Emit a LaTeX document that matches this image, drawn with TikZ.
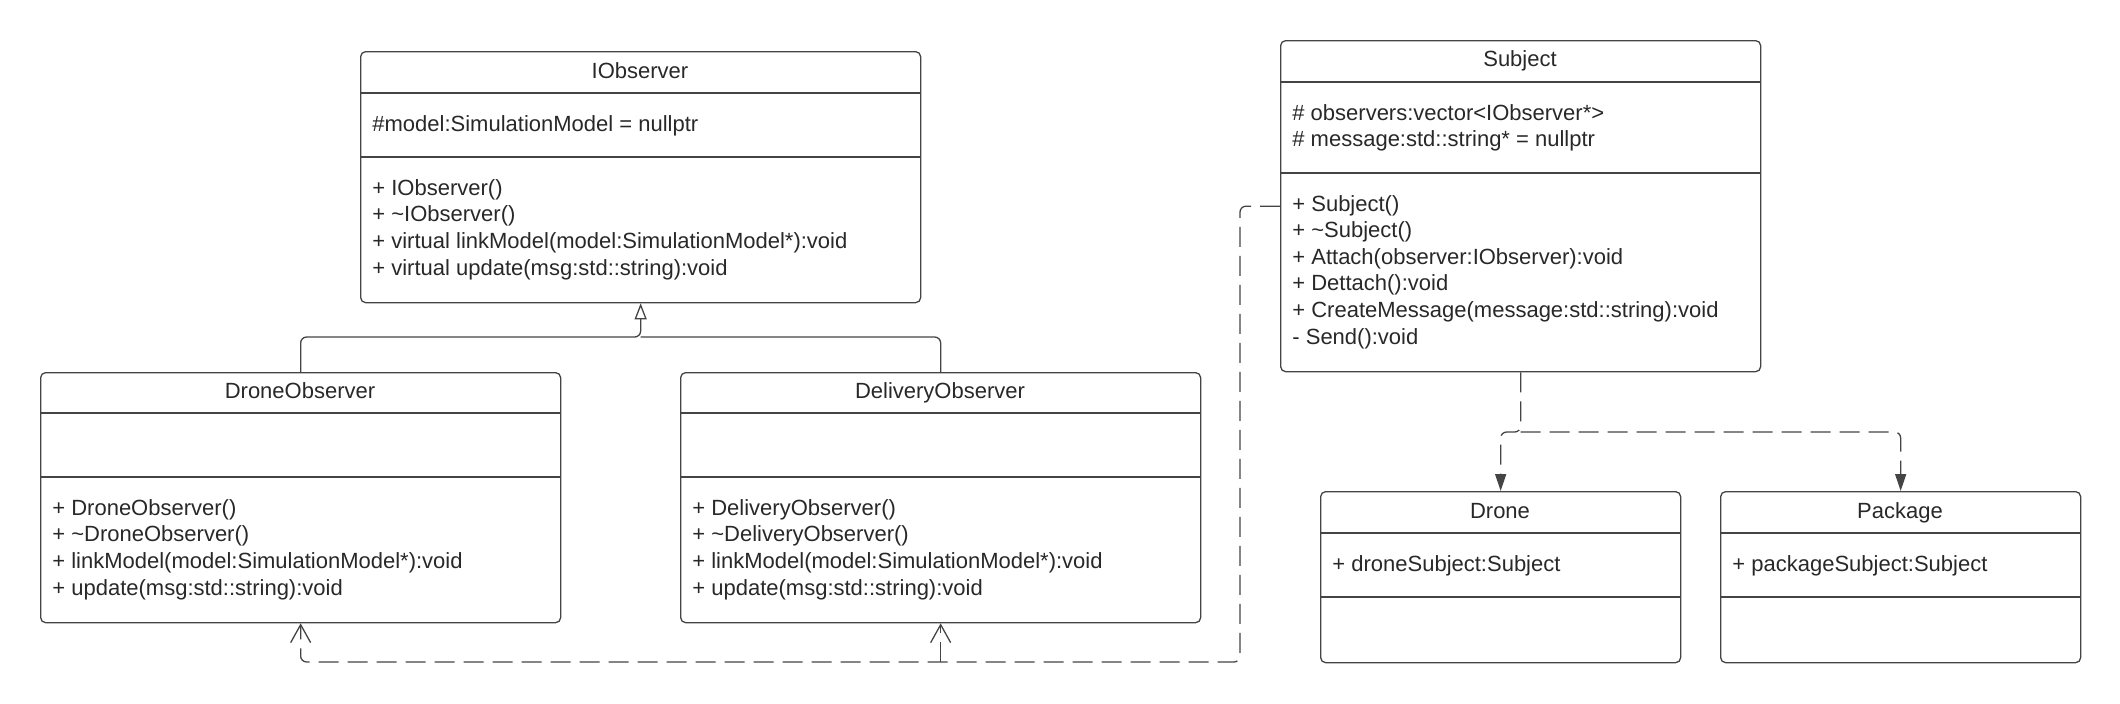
\documentclass[tikz,border=0pt]{standalone}
\usepackage{fontspec}
\setmainfont{Liberation Sans}
\usetikzlibrary{arrows.meta}
\definecolor{linec}{RGB}{68,68,68}
\definecolor{textc}{RGB}{40,40,40}
\tikzset{
    cls/.style={draw=linec, line width=0.65pt, rounded corners=2.5pt, anchor=north west, inner sep=0pt},
    sepline/.style={draw=linec, line width=0.65pt},
    txt/.style={anchor=west, inner sep=0pt, yshift=-1pt, text height=8pt, text depth=2pt, text=textc, font=\fontsize{11}{13.5}\selectfont},
    ttl/.style={txt, anchor=center},
    gen/.style={draw=linec, line width=0.65pt, rounded corners=3pt},
    dep/.style={draw=linec, line width=0.65pt, rounded corners=3pt, dash pattern=on 10pt off 4.5pt},
}
\begin{document}
\begin{tikzpicture}[x=0.5pt, y=-0.5pt]
    \useasboundingbox (0,0) rectangle (2120,703);

    % class boxes
    \node[cls, minimum width=280pt, minimum height=125.5pt] (iobs) at (360,51) {};
    \node[cls, minimum width=240pt, minimum height=165.5pt] (subj) at (1280,40) {};
    \node[cls, minimum width=260pt, minimum height=125pt] (dobs) at (40,372) {};
    \node[cls, minimum width=260pt, minimum height=125pt] (delobs) at (680,372) {};
    \node[cls, minimum width=180pt, minimum height=85.5pt] (drone) at (1320,491) {};
    \node[cls, minimum width=180pt, minimum height=85.5pt] (pkg) at (1720,491) {};

    % compartments
    \draw[sepline] (iobs.west |- 0,93) -- (iobs.east |- 0,93);
    \draw[sepline] (iobs.west |- 0,157) -- (iobs.east |- 0,157);
    \draw[sepline] (subj.west |- 0,82) -- (subj.east |- 0,82);
    \draw[sepline] (subj.west |- 0,173) -- (subj.east |- 0,173);
    \draw[sepline] (dobs.west |- 0,413) -- (dobs.east |- 0,413);
    \draw[sepline] (dobs.west |- 0,477) -- (dobs.east |- 0,477);
    \draw[sepline] (delobs.west |- 0,413) -- (delobs.east |- 0,413);
    \draw[sepline] (delobs.west |- 0,477) -- (delobs.east |- 0,477);
    \draw[sepline] (drone.west |- 0,533) -- (drone.east |- 0,533);
    \draw[sepline] (drone.west |- 0,597) -- (drone.east |- 0,597);
    \draw[sepline] (pkg.west |- 0,533) -- (pkg.east |- 0,533);
    \draw[sepline] (pkg.west |- 0,597) -- (pkg.east |- 0,597);

    % IObserver
    \node[ttl] (iobst) at (640,70) {IObserver};
    \node[txt] (iobsa) at (372,123) {\#model:SimulationModel = nullptr};
    \foreach \t [count=\i from 0] in {+ IObserver(), + \textasciitilde IObserver(), + virtual linkModel(model:SimulationModel*):void, + virtual update(msg:std::string):void}
        \node[txt] (iobsm\i) at (372,187+26.7*\i) {\t};

    % Subject
    \node[ttl] (subjt) at (1520,58) {Subject};
    \node[txt] (subja0) at (1292,112) {\# observers:vector<IObserver*>};
    \node[txt] (subja1) at (1292,138) {\# message:std::string* = nullptr};
    \foreach \t [count=\i from 0] in {+ Subject(), + \textasciitilde Subject(), + Attach(observer:IObserver):void, + Dettach():void, + CreateMessage(message:std::string):void, - Send():void}
        \node[txt] (subjm\i) at (1292,203+26.6*\i) {\t};

    % observers
    \node[ttl] (dobst) at (300,390) {DroneObserver};
    \foreach \t [count=\i from 0] in {+ DroneObserver(), + \textasciitilde DroneObserver(), + linkModel(model:SimulationModel*):void, + update(msg:std::string):void}
        \node[txt] (dobsm\i) at (52,507+26.7*\i) {\t};
    \node[ttl] (delobst) at (940,390) {DeliveryObserver};
    \foreach \t [count=\i from 0] in {+ DeliveryObserver(), + \textasciitilde DeliveryObserver(), + linkModel(model:SimulationModel*):void, + update(msg:std::string):void}
        \node[txt] (delobsm\i) at (692,507+26.7*\i) {\t};

    % Drone, Package
    \node[ttl] (dronet) at (1500,510) {Drone};
    \node[txt] (dronea) at (1332,563) {+ droneSubject:Subject};
    \node[ttl] (pkgt) at (1900,510) {Package};
    \node[txt] (pkga) at (1732,563) {+ packageSubject:Subject};

    % connectors
    \coordinate (gj) at (iobs.south |- 0,337);
    \coordinate (dc) at (1240,662);
    \coordinate (sj) at (subj.south |- 0,432);

    \draw[gen, -{Triangle[open, length=8pt, width=6pt]}] (dobs.north) |- (gj) -- (iobs.south);
    \draw[gen] (delobs.north) |- (gj);

    \draw[dep, -{Straight Barb[length=9pt, width=10pt]}] (subj.west) -| (dc) -| (dobs.south);
    \draw[dep, -{Straight Barb[length=9pt, width=10pt]}] (delobs.south |- dc) -- (delobs.south);

    \draw[dep, -{Triangle[length=8.5pt, width=5.5pt]}] (subj.south) -- (sj) -| (drone.north);
    \draw[dep, -{Triangle[length=8.5pt, width=5.5pt]}] (sj) -| (pkg.north);
\end{tikzpicture}
\end{document}
